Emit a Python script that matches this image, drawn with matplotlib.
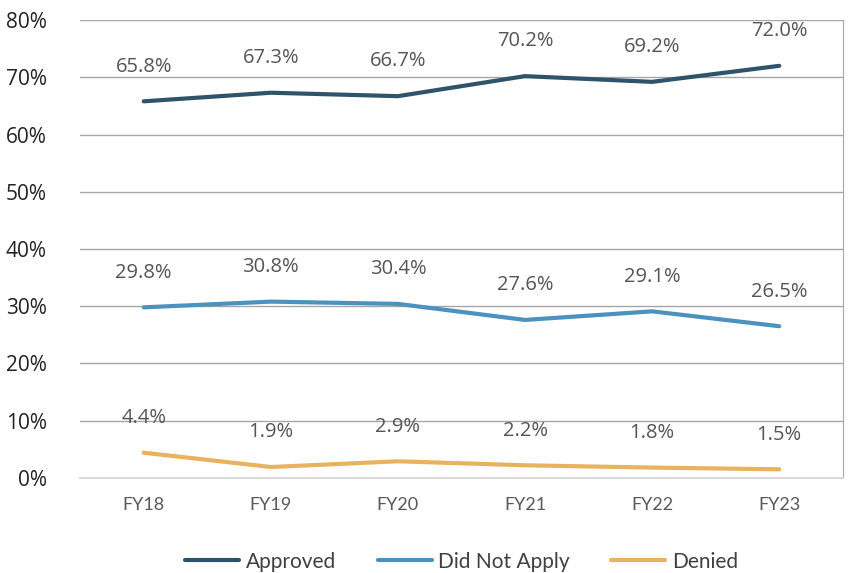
import matplotlib
matplotlib.use("Agg")
import matplotlib.pyplot as plt
from matplotlib.ticker import FuncFormatter

years = ["FY18", "FY19", "FY20", "FY21", "FY22", "FY23"]
approved = [65.8, 67.3, 66.7, 70.2, 69.2, 72.0]
did_not_apply = [29.8, 30.8, 30.4, 27.6, 29.1, 26.5]
denied = [4.4, 1.9, 2.9, 2.2, 1.8, 1.5]

series = [
    ("Approved", approved, "#2f5469"),
    ("Did Not Apply", did_not_apply, "#4b92bf"),
    ("Denied", denied, "#e8b35f"),
]

plt.rcParams['font.family'] = ['Open Sans', 'DejaVu Sans']

fig = plt.figure(figsize=(8.53, 5.73), dpi=100)
ax = fig.add_axes([0.094, 0.166, 0.894, 0.799])

x = list(range(len(years)))
for name, vals, col in series:
    ax.plot(x, vals, color=col, lw=3, label=name, solid_capstyle='round')
    for xi, v in zip(x, vals):
        ax.annotate(f"{v:.1f}%", (xi, v), xytext=(0, 25), textcoords='offset points',
                    ha='center', va='center', fontsize=14.5, color='#555555')

ax.set_xlim(-0.5, len(years) - 0.5)
ax.set_ylim(0, 80)
ax.set_yticks(range(0, 81, 10))
ax.yaxis.set_major_formatter(FuncFormatter(lambda v, p: f"{v:.0f}%"))
ax.set_xticks(x)
ax.set_xticklabels(years, family=['Lato', 'DejaVu Sans'], fontsize=13, color='#595959')
ax.tick_params(axis='y', length=0, labelsize=15, colors='#222222', pad=24)
ax.tick_params(axis='x', length=0, pad=14)

ax.grid(axis='y', color='#a6a6a6', lw=1)
ax.set_axisbelow(True)
for s in ['left', 'top']:
    ax.spines[s].set_visible(False)
ax.spines['bottom'].set_color('#d9d9d9')
ax.spines['bottom'].set_linewidth(1.5)
ax.spines['right'].set_color('#a6a6a6')

leg = ax.legend(loc='upper center', bbox_to_anchor=(0.5, -0.12), ncol=3, frameon=False,
                prop={'family': ['Lato', 'DejaVu Sans'], 'size': 15}, handlelength=2.6,
                columnspacing=2.0, handletextpad=0.3)
for t in leg.get_texts():
    t.set_color('#404040')

fig.savefig("out.png", dpi=100)
